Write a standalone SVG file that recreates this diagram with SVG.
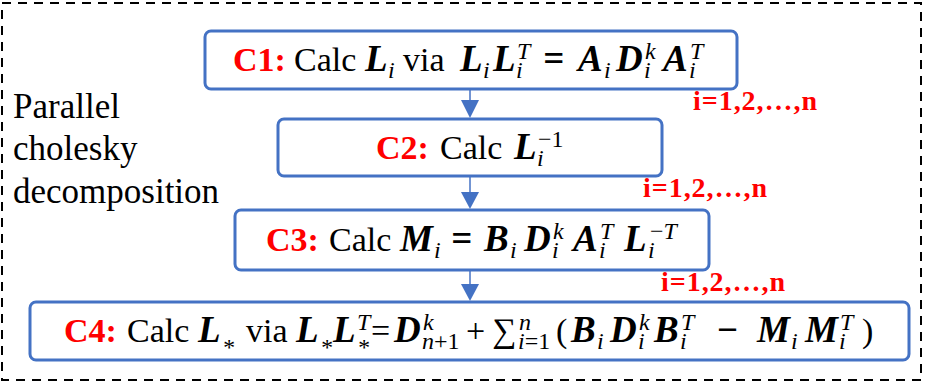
<svg xmlns="http://www.w3.org/2000/svg" width="925" height="383" viewBox="0 0 925 383">
<style>
.frame{fill:none;stroke:#000;stroke-width:2;stroke-dasharray:9 7}
.box{fill:#fff;stroke:#4472C4;stroke-width:3}
text{font-family:'Liberation Serif','Times New Roman','DejaVu Serif',serif}
.t{font-size:34px;fill:#000}
.c{font-weight:bold;fill:#FF0000}
.m{font-weight:bold;font-style:italic;font-size:37px}
.s{font-style:italic;font-size:24px;font-weight:normal}
.r{font-style:normal;font-size:24px;font-weight:normal}
.lab{font-weight:bold;font-size:28px;fill:#FF0000}
.side{font-size:35px;fill:#000}
.conn line{stroke:#4472C4;stroke-width:1.5}
.conn polygon{fill:#4472C4}
</style>
<rect class="frame" x="2" y="3" width="919" height="377"/>
<g id="side-label">
<text class="side" x="13" y="118">Parallel</text>
<text class="side" x="13" y="160">cholesky</text>
<text class="side" x="13" y="203">decomposition</text>
</g>
<g class="conn" id="connectors">
<line x1="470" y1="89" x2="470" y2="101"/><polygon points="461,100 479,100 470,118"/>
<line x1="470" y1="176" x2="470" y2="193"/><polygon points="461,192 479,192 470,209"/>
<line x1="470" y1="270" x2="470" y2="285"/><polygon points="461,284 479,284 470,301"/>
</g>
<g id="C1">
<rect class="box" x="205" y="31" width="532" height="58" rx="6"/>
<text class="t" y="71"><tspan class="c" x="233">C1:</tspan><tspan x="294">Calc</tspan><tspan class="m" x="365">L</tspan><tspan class="s" x="388" dy="7">i</tspan><tspan x="403" dy="-7">via</tspan><tspan class="m" x="460">L</tspan><tspan class="s" x="483" dy="7">i</tspan><tspan class="m" x="493" dy="-7">L</tspan><tspan class="s" x="516" dy="7">i</tspan><tspan class="s" x="517" dy="-19">T</tspan><tspan class="m" x="543" dy="12">=</tspan><tspan class="m" x="578">A</tspan><tspan class="s" x="604" dy="7">i</tspan><tspan class="m" x="616" dy="-7">D</tspan><tspan class="s" x="644" dy="7">i</tspan><tspan class="s" x="645" dy="-19">k</tspan><tspan class="m" x="663" dy="12">A</tspan><tspan class="s" x="689" dy="7">i</tspan><tspan class="s" x="690" dy="-19">T</tspan></text>
</g>
<g id="C2">
<rect class="box" x="278" y="119" width="384" height="57" rx="6"/>
<text class="t" y="159"><tspan class="c" x="376">C2:</tspan><tspan x="440">Calc</tspan><tspan class="m" x="514">L</tspan><tspan class="s" x="537" dy="7">i</tspan><tspan class="r" x="538" dy="-19">−1</tspan></text>
</g>
<g id="C3">
<rect class="box" x="235" y="210" width="474" height="60" rx="6"/>
<text class="t" y="251"><tspan class="c" x="266">C3:</tspan><tspan x="329">Calc</tspan><tspan class="m" x="400">M</tspan><tspan class="s" x="434" dy="7">i</tspan><tspan class="m" x="451" dy="-7">=</tspan><tspan class="m" x="484">B</tspan><tspan class="s" x="510" dy="7">i</tspan><tspan class="m" x="524" dy="-7">D</tspan><tspan class="s" x="552" dy="7">i</tspan><tspan class="s" x="553" dy="-19">k</tspan><tspan class="m" x="573" dy="12">A</tspan><tspan class="s" x="599" dy="7">i</tspan><tspan class="s" x="600" dy="-19">T</tspan><tspan class="m" x="624" dy="12">L</tspan><tspan class="s" x="648" dy="7">i</tspan><tspan class="r" x="650" dy="-19">−</tspan><tspan class="s">T</tspan></text>
</g>
<g id="C4">
<rect class="box" x="30" y="302" width="879" height="58" rx="6"/>
<text class="t" y="342"><tspan class="c" x="64">C4:</tspan><tspan x="127">Calc</tspan><tspan class="m" x="198">L</tspan><tspan class="s" x="222" dy="13">*</tspan><tspan x="246" dy="-13">via</tspan><tspan class="m" x="296">L</tspan><tspan class="s" x="320" dy="13">*</tspan><tspan class="m" x="333" dy="-13">L</tspan><tspan class="s" x="357" dy="13">*</tspan><tspan class="s" x="357" dy="-25">T</tspan><tspan x="371" dy="12">=</tspan><tspan class="m" x="394">D</tspan><tspan class="s" x="422" dy="7">n</tspan><tspan class="r">+1</tspan><tspan class="s" x="423" dy="-19">k</tspan><tspan x="466" dy="12">+</tspan><tspan x="492">∑</tspan><tspan class="s" x="518" dy="7">i</tspan><tspan class="r">=1</tspan><tspan class="s" x="519" dy="-19">n</tspan><tspan x="556" dy="12">(</tspan><tspan class="m" x="571">B</tspan><tspan class="s" x="597" dy="7">i</tspan><tspan class="m" x="610" dy="-7">D</tspan><tspan class="s" x="638" dy="7">i</tspan><tspan class="s" x="639" dy="-19">k</tspan><tspan class="m" x="654" dy="12">B</tspan><tspan class="s" x="680" dy="7">i</tspan><tspan class="s" x="681" dy="-19">T</tspan><tspan class="m" x="716" dy="12">−</tspan><tspan class="m" x="757">M</tspan><tspan class="s" x="791" dy="7">i</tspan><tspan class="m" x="805" dy="-7">M</tspan><tspan class="s" x="839" dy="7">i</tspan><tspan class="s" x="840" dy="-19">T</tspan><tspan x="862" dy="12">)</tspan></text>
</g>
<g id="labels">
<text class="lab" x="693" y="110" textLength="124" lengthAdjust="spacing">i=1,2,…,n</text>
<text class="lab" x="643" y="197" textLength="124" lengthAdjust="spacing">i=1,2,…,n</text>
<text class="lab" x="661" y="291" textLength="124" lengthAdjust="spacing">i=1,2,…,n</text>
</g>
</svg>
